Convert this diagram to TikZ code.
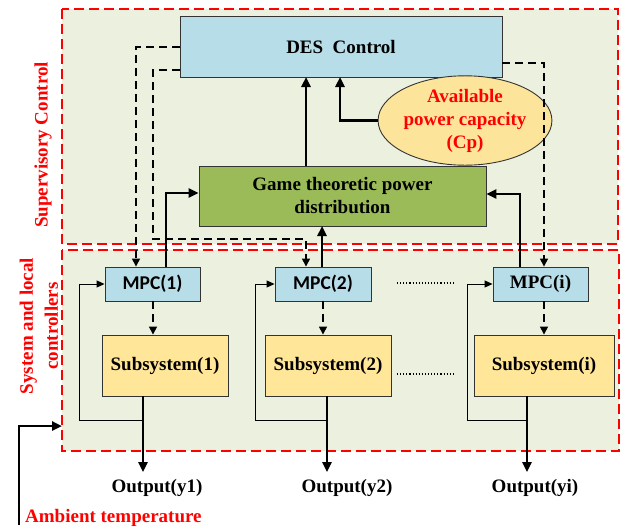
\documentclass[tikz,border=0pt]{standalone}
\usepackage{fontspec}
\setmainfont{Liberation Serif}
\newfontfamily\carl{Carlito}
\usetikzlibrary{arrows.meta,shapes.geometric}
\definecolor{bgG}{HTML}{EBF1DE}
\definecolor{desB}{HTML}{B7DDE8}
\definecolor{gameG}{HTML}{9BBB59}
\definecolor{subY}{HTML}{FFE699}
\definecolor{ellO}{HTML}{FDE49B}
\definecolor{redR}{HTML}{FF0000}
\begin{document}
\begin{tikzpicture}[x=1pt,y=-1pt,
  txt/.style={font=\fontsize{19}{23}\selectfont\bfseries, align=center},
  redtxt/.style={txt, text=redR},
  area/.style={draw=redR, line width=1.6pt, dash pattern=on 10pt off 5pt, fill=bgG},
  boxB/.style={draw=black!80, line width=0.9pt, fill=desB, inner sep=0pt, txt},
  boxY/.style={draw=black!80, line width=0.9pt, fill=subY, inner sep=0pt, txt},
  thickarr/.style={line width=2.4pt, -{Triangle[length=10pt,width=9pt]}},
  dasharr/.style={line width=1.4pt, dash pattern=on 8pt off 5pt, -{Triangle[length=8pt,width=8pt]}},
  thinarr/.style={line width=0.9pt, -{Triangle[length=8pt,width=7pt]}}]
\useasboundingbox (0,0) rectangle (624,531);
\fill[white] (0,0) rectangle (624,531);
% areas
\draw[area] (62,9) rectangle (618,244);
\draw[area] (62,250) rectangle (619,451);
% side labels
\node[redtxt, rotate=90] (lsup) at (43,145) {Supervisory Control};
\node[redtxt, rotate=90, font=\fontsize{19}{25}\selectfont\bfseries] (lsys) at (39,326) {System and local\\controllers};
% main nodes
\node[boxB, minimum width=322pt, minimum height=61pt] (DES) at (341,46.5) {DES\ \ Control};
\node[draw=black!80, line width=0.9pt, fill=gameG, minimum width=287pt, minimum height=60pt, inner sep=0pt, txt] (Game) at (342.5,196) {Game theoretic power\\distribution};
\node[ellipse, draw=black!80, line width=0.9pt, fill=ellO, minimum width=140pt, minimum height=73pt, inner sep=0pt, redtxt] (Ell) at (465,120.5) {Available\\power capacity\\(Cp)};
\node[boxB, minimum width=95pt, minimum height=34pt] (MPC1) at (152.5,284) {\carl\fontsize{19.5}{23}\selectfont MPC(1)};
\node[boxB, minimum width=96pt, minimum height=34pt] (MPC2) at (323,284) {\carl\fontsize{19.5}{23}\selectfont MPC(2)};
\node[boxB, minimum width=95pt, minimum height=34pt] (MPCi) at (540.5,284) {MPC(i)};
\node[boxY, minimum width=126pt, minimum height=61pt] (Sub1) at (165,365.5) {Subsystem(1)};
\node[boxY, minimum width=126pt, minimum height=61pt] (Sub2) at (328,365.5) {Subsystem(2)};
\node[boxY, minimum width=140pt, minimum height=61pt] (Subi) at (544,365.5) {Subsystem(i)};
\node[txt] (out1) at (157,488) {Output(y1)};
\node[txt] (out2) at (347,488) {Output(y2)};
\node[txt] (outi) at (535,488) {Output(yi)};
\node[redtxt, anchor=west, inner sep=0pt] (amb) at (25,518) {Ambient temperature};
% coordinates
\coordinate (o1) at (143,472);
\coordinate (o2) at (327,472);
\coordinate (oi) at (527,472);
\coordinate (f1) at (79,420);
\coordinate (f2) at (255,420);
\coordinate (fi) at (467,420);
\coordinate (d1) at (136,47);
\coordinate (d2a) at (180,70);
\coordinate (d2b) at (153,239);
\coordinate (d2c) at (306,239);
\coordinate (d3a) at (502,63);
\coordinate (d3b) at (544,63);
\coordinate (g1) at (166,193);
\coordinate (g2) at (322,226);
\coordinate (gi) at (520,194);
\coordinate (gd) at (306,77);
\coordinate (ed) at (340,77);
\coordinate (a0) at (19,525);
\coordinate (a1) at (19,426);
\coordinate (a2) at (62,426);
% supervisory connectors
\draw[thickarr] (Game.north -| gd) -- (gd);
\draw[thickarr] (Ell.west) -| (ed);
\draw[dasharr] (DES.west |- d1) -- (d1) -- (d1 |- MPC1.north);
\draw[dasharr] (d2a) -| (d2b) -- (d2c) -- (d2c |- MPC2.north);
\draw[dasharr] (d3a) -- (d3b) -- (d3b |- MPCi.north);
\draw[thickarr] (MPC1.north -| g1) -- (g1) -- (Game.west |- g1);
\draw[thickarr] (MPC2.north -| g2) -- (g2);
\draw[thickarr] (MPCi.north -| gi) -- (gi) -- (Game.east |- gi);
% local connectors
\draw[dasharr] (MPC1.south -| 153,0) -- (Sub1.north -| 153,0);
\draw[dasharr] (MPC2.south -| 323,0) -- (Sub2.north -| 323,0);
\draw[dasharr] (MPCi.south -| 544,0) -- (Subi.north -| 544,0);
\draw[thickarr] (Sub1.south -| o1) -- (o1);
\draw[thickarr] (Sub2.south -| o2) -- (o2);
\draw[thickarr] (Subi.south -| oi) -- (oi);
\draw[thinarr] (o1 |- f1) -- (f1) |- (MPC1.west);
\draw[thinarr] (o2 |- f2) -- (f2) |- (MPC2.west);
\draw[thinarr] (oi |- fi) -- (fi) |- (MPCi.west);
\draw[line width=1.1pt, dotted] (397,283) -- (454,283);
\draw[line width=1.1pt, dotted] (397,374) -- (454,374);
\draw[thickarr] (a0) -- (a1) -- (a2);
\end{tikzpicture}
\end{document}
